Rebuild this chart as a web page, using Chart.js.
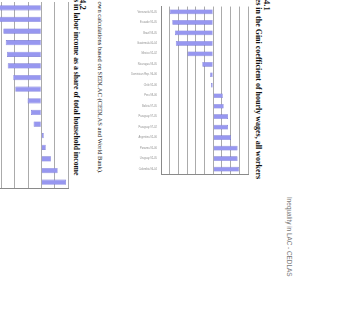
<!DOCTYPE html>
<html>
<head>
<meta charset="utf-8">
<script src="https://cdn.jsdelivr.net/npm/chart.js@4"></script>
<style>
  html,body{margin:0;padding:0;background:#fff;width:346px;height:316px;overflow:hidden;position:relative;}
  .v{position:absolute;writing-mode:vertical-rl;white-space:nowrap;color:#111;}
  .cap{font-family:"Liberation Serif","Times New Roman",serif;font-weight:bold;}
  .src{font-family:"Liberation Serif","Times New Roman",serif;}
  .hdr{font-family:"Liberation Sans",Arial,sans-serif;color:#777;}
  canvas{position:absolute;}
</style>
</head>
<body>
<div class="v hdr" style="left:286px;top:197px;font-size:6.4px;line-height:7px;">Inequality in LAC - CEDLAS</div>
<div class="v cap" style="left:262px;top:-26px;font-size:8.5px;line-height:9px;">Figure 4.1</div>
<div class="v cap" style="left:254px;top:-24px;font-size:8px;line-height:8px;">Changes in the Gini coefficient of hourly wages, all workers</div>
<div class="v src" style="left:96px;top:-20px;font-size:6.5px;line-height:8px;">Source: own calculations based on SEDLAC (CEDLAS and World Bank).</div>
<div class="v cap" style="left:78px;top:-27px;font-size:8.5px;line-height:9px;">Figure 4.2</div>
<div class="v cap" style="left:72px;top:-26px;font-size:7.7px;line-height:8px;">Changes in labor income as a share of total household income</div>

<canvas id="c1" width="132" height="179" style="left:120px;top:1px;"></canvas>
<canvas id="c2" width="136" height="189" style="left:-64px;top:2px;"></canvas>

<script>
// Figure 4.1: change in Gini coefficient of hourly wages (Gini points)
const giniCategories = [
  "Venezuela 95-05","Ecuador 95-05","Brazil 93-05","Guatemala 00-04",
  "Mexico 92-02","Nicaragua 93-05","Dominican Rep. 96-06","Chile 92-06",
  "Peru 98-06","Bolivia 97-05","Paraguay 97-05","Paraguay 97-02",
  "Argentina 92-06","Panama 95-06","Uruguay 92-05","Colombia 96-04"
];
const giniValues = [-5.0,-4.7,-4.4,-4.3,-2.95,-1.25,-0.35,-0.25,1.1,1.2,1.7,1.7,2.05,2.8,2.8,2.95];

// Figure 4.2: change in labor income share of total household income
const laborCategories = [
  "c1","c2","c3","c4","c5","c6","c7","c8",
  "c9","c10","c11","c12","c13","c14","c15","c16"
];
const laborValues = [-3.6,-3.4,-2.85,-2.67,-2.57,-2.52,-2.1,-1.95,-1.03,-0.78,-0.58,0.18,0.33,0.72,1.22,1.85];

const giniAxis = {min:-6, max:4, step:1};
const laborAxis = {min:-4, max:2, step:1};

const barFill = '#9797f0';
const barEdge = '#7070d2';

function makeChart(id, cats, vals, axis, labelWidth, showLabels){
  return new Chart(document.getElementById(id), {
    type:'bar',
    data:{labels:cats, datasets:[{data:vals, backgroundColor:barFill, borderColor:barEdge, borderWidth:0.6,
      categoryPercentage:1.0, barPercentage:0.45}]},
    options:{
      indexAxis:'y', responsive:false, animation:false,
      layout:{padding:{top:0,right:4,bottom:3,left:0}},
      plugins:{legend:{display:false}, tooltip:{enabled:false}},
      scales:{
        x:{min:axis.min, max:axis.max, position:'bottom',
           ticks:{display:false, stepSize:axis.step},
           grid:{color:'#ababab', lineWidth:1, drawTicks:false},
           border:{display:true, color:'#8a8a8a', width:1},
           afterFit:(s)=>{s.height=0;}},
        y:{position:'left',
           ticks:{display:showLabels, color:'#8f8f8f', padding:4, font:{family:'Liberation Sans, Arial', size:2.6}, autoSkip:false},
           grid:{display:false, drawTicks:false},
           border:{display:true, color:'#8a8a8a', width:1},
           afterFit:(s)=>{s.width=labelWidth;}}
      }
    }
  });
}
makeChart('c1', giniCategories, giniValues, giniAxis, 41, true);
makeChart('c2', laborCategories, laborValues, laborAxis, 52, false);
</script>
</body>
</html>
